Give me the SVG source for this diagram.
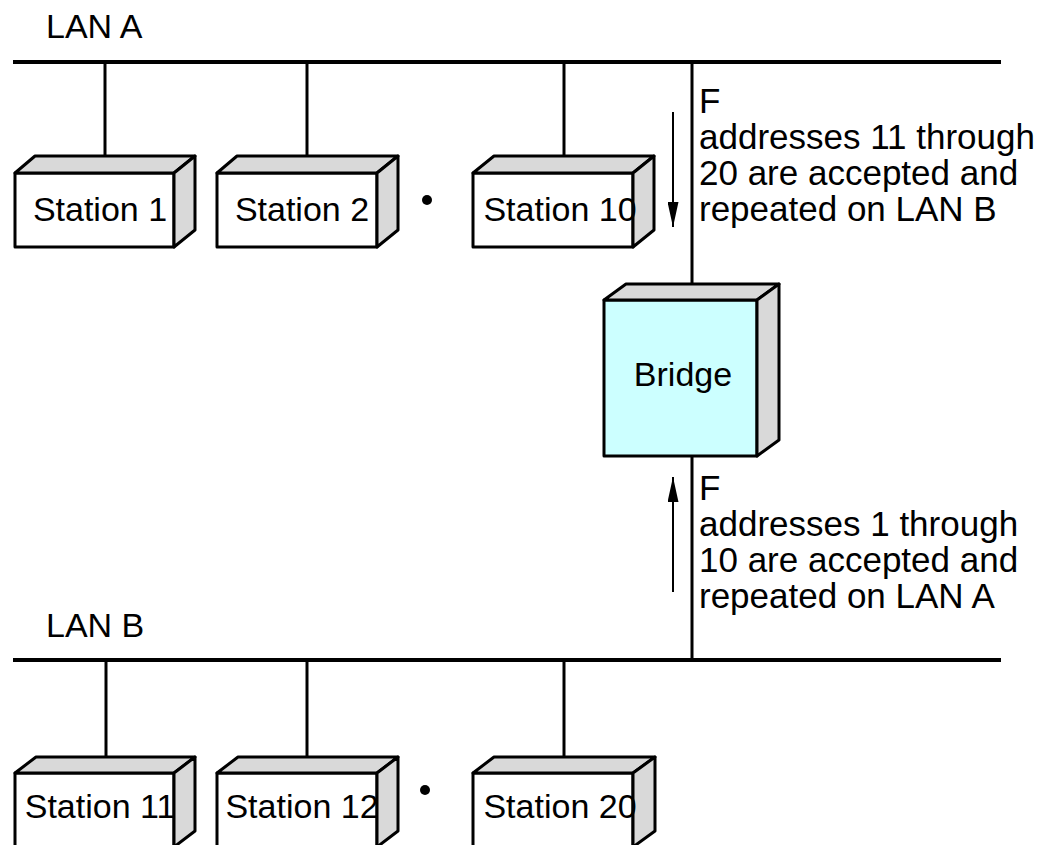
<svg xmlns="http://www.w3.org/2000/svg" width="1057" height="845" viewBox="0 0 1057 845">
<style>
text{font-family:"Liberation Sans",Arial,sans-serif;font-size:34px;fill:#000}
.note{font-size:35px}
.bus{stroke:#000;stroke-width:4;fill:none}
.tap{stroke:#000;stroke-width:3;fill:none}
.front{fill:#fff;stroke:#000;stroke-width:3;stroke-linejoin:round}
.side{fill:#d9d9d9;stroke:#000;stroke-width:3;stroke-linejoin:round}
.bridge{fill:#ccffff;stroke:#000;stroke-width:3;stroke-linejoin:round}
.flow{stroke:#000;stroke-width:2;fill:none}
.mid{text-anchor:middle}
</style>
<defs>
<marker id="ah" viewBox="0 0 25 11" refX="25" refY="5.5" markerWidth="25" markerHeight="11" markerUnits="userSpaceOnUse" orient="auto">
<path d="M0,0 L25,5.5 L0,11 Z" fill="#000"/>
</marker>
</defs>
<g id="labels">
<text x="46" y="38">LAN A</text>
<text x="46" y="637">LAN B</text>
</g>
<g id="connectors">
<line class="bus" x1="13" y1="62" x2="1001" y2="62"/>
<line class="bus" x1="13" y1="660" x2="1001" y2="660"/>
<line class="tap" x1="692" y1="62" x2="692" y2="660"/>
<line class="tap" x1="105" y1="62" x2="105" y2="156"/>
<line class="tap" x1="307" y1="62" x2="307" y2="156"/>
<line class="tap" x1="564" y1="62" x2="564" y2="156"/>
<line class="tap" x1="106" y1="660" x2="106" y2="757"/>
<line class="tap" x1="307" y1="660" x2="307" y2="757"/>
<line class="tap" x1="564" y1="660" x2="564" y2="757"/>
<line class="flow" x1="673" y1="112" x2="673" y2="227" marker-end="url(#ah)"/>
<line class="flow" x1="673" y1="592" x2="673" y2="477" marker-end="url(#ah)"/>
</g>
<g id="station1">
<rect class="front" x="15" y="173" width="159" height="74"/>
<polygon class="side" points="15,173 35,156 195,156 174,173"/>
<polygon class="side" points="174,173 195,156 195,230 174,247"/>
<text class="mid" x="100" y="221">Station 1</text>
</g>
<g id="station2">
<rect class="front" x="217" y="173" width="160" height="74"/>
<polygon class="side" points="217,173 237,156 398,156 377,173"/>
<polygon class="side" points="377,173 398,156 398,230 377,247"/>
<text class="mid" x="302" y="221">Station 2</text>
</g>
<circle id="dots-a" cx="427" cy="200" r="5" fill="#000"/>
<g id="station10">
<rect class="front" x="473" y="173" width="160" height="74"/>
<polygon class="side" points="473,173 494,156 654,156 633,173"/>
<polygon class="side" points="633,173 654,156 654,230 633,247"/>
<text class="mid" x="560" y="221">Station 10</text>
</g>
<g id="bridge">
<rect class="bridge" x="604" y="300" width="153" height="156"/>
<polygon class="side" points="604,300 626,284 779,284 757,300"/>
<polygon class="side" points="757,300 779,284 779,440 757,456"/>
<text class="mid" x="683" y="386">Bridge</text>
</g>
<g id="note-a">
<text class="note" x="699" y="113">F</text>
<text class="note" x="699" y="149">addresses 11 through</text>
<text class="note" x="699" y="185">20 are accepted and</text>
<text class="note" x="699" y="221">repeated on LAN B</text>
</g>
<g id="note-b">
<text class="note" x="699" y="500">F</text>
<text class="note" x="699" y="536">addresses 1 through</text>
<text class="note" x="699" y="572">10 are accepted and</text>
<text class="note" x="699" y="608">repeated on LAN A</text>
</g>
<g id="station11">
<rect class="front" x="15" y="773" width="159" height="74"/>
<polygon class="side" points="15,773 36,757 195,757 174,773"/>
<polygon class="side" points="174,773 195,757 195,831 174,847"/>
<text class="mid" x="100" y="818">Station 11</text>
</g>
<g id="station12">
<rect class="front" x="217" y="773" width="160" height="74"/>
<polygon class="side" points="217,773 238,757 398,757 377,773"/>
<polygon class="side" points="377,773 398,757 398,831 377,847"/>
<text class="mid" x="302" y="818">Station 12</text>
</g>
<circle id="dots-b" cx="425" cy="790" r="5" fill="#000"/>
<g id="station20">
<rect class="front" x="473" y="773" width="160" height="74"/>
<polygon class="side" points="473,773 494,757 655,757 633,773"/>
<polygon class="side" points="633,773 655,757 655,831 633,847"/>
<text class="mid" x="560" y="818">Station 20</text>
</g>
</svg>
